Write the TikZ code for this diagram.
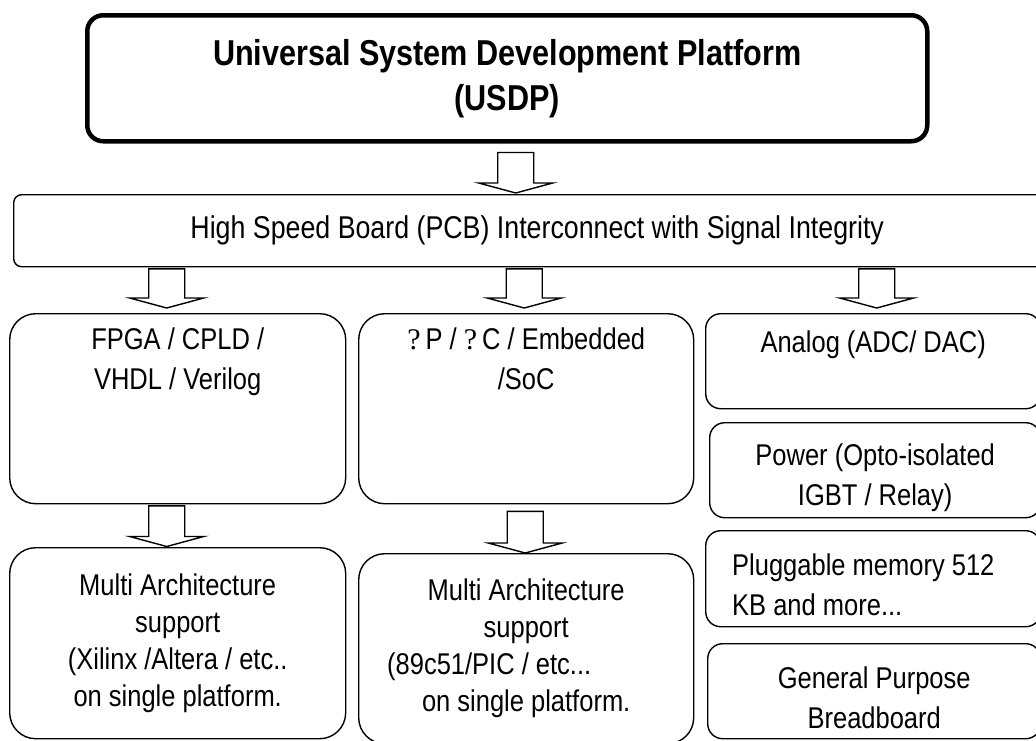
\documentclass[tikz,border=0pt]{standalone}
\usepackage{fontspec}
\setmainfont{Liberation Sans}[FakeStretch=0.85]
\newfontfamily\qmarkfont{Liberation Serif}
\usetikzlibrary{positioning,calc}
\tikzset{
  box-title/.style={draw,line width=4.5pt,rounded corners=16pt,align=center,
    anchor=north west,inner sep=0pt,font=\fontsize{36}{45}\selectfont\bfseries},
  box-bus/.style={draw,line width=1.4pt,rounded corners=8pt,anchor=north west,
    inner sep=0pt,font=\fontsize{31.5}{38}\selectfont},
  box-big/.style={draw,line width=1.4pt,rounded corners=26pt,anchor=north west,
    minimum width=336pt,align=center,inner sep=0pt,font=\fontsize{30}{37}\selectfont},
  box-side/.style={draw,line width=1.4pt,rounded corners=15pt,anchor=north west,
    minimum height=95pt,inner sep=0pt},
  box-text/.style={align=center,inner sep=0pt,font=\fontsize{30}{40}\selectfont},
  arrow-block/.style={draw,line width=1.4pt,fill=white,line join=miter},
}
% hollow block arrow: x offset, from, to, gap below from, gap above to
\newcommand\blockarrow[5]{%
  \draw[arrow-block] let \p1=(#2.south), \p2=($(#3.north)+(#1,0)$) in
    (\x2-18pt,\y1-#4pt) -- (\x2-18pt,\y2+#5pt+10pt) -- (\x2-37pt,\y2+#5pt+10pt)
    -- (\x2,\y2+#5pt) -- (\x2+37pt,\y2+#5pt+10pt) -- (\x2+18pt,\y2+#5pt+10pt)
    -- (\x2+18pt,\y1-#4pt) -- cycle;}

\begin{document}
\begin{tikzpicture}[x=1pt,y=-1pt]
  \useasboundingbox (0,0) rectangle (1036,740);
  \clip (0,0) rectangle (1036,740);
  \node[box-title,minimum width=840pt,minimum height=126pt] (usdp) at (85,13)
    {Universal System Development Platform\\(USDP)};
  \node[box-bus,minimum width=1047pt,minimum height=72pt] (pcb) at (13,194)
    {High Speed Board (PCB) Interconnect with Signal Integrity};
  % middle row
  \node[box-big,minimum height=190pt] (fpga) at (9,313) {};
  \node[box-text,below=15pt of fpga.north] (fpga-txt) {FPGA / CPLD /\\VHDL / Verilog};
  \node[box-big,minimum width=335pt,minimum height=190pt] (mcu) at (358,313) {};
  \node[box-text,below=15pt of mcu.north] (mcu-txt)
    {{\qmarkfont ?}\,P / {\qmarkfont ?}\,C / Embedded\\/SoC};
  % right column
  \node[box-side,minimum width=335pt] (analog) at (705,313) {};
  \node[box-text,below=18pt of analog.north] (analog-txt) {Analog (ADC/ DAC)};
  \node[box-side,minimum width=331pt] (power) at (709,422) {};
  \node[box-text] (power-txt) at ($(power.center)+(0,8)$)
    {Power (Opto-isolated\\IGBT / Relay)};
  \node[box-side,minimum width=335pt,minimum height=96pt] (memory) at (705,530) {};
  \node[box-text,align=left,anchor=west] (memory-txt) at ($(memory.west)+(27,6)$)
    {Pluggable memory 512\\KB and more...};
  \node[box-side,minimum width=333pt] (bread) at (707,643) {};
  \node[box-text] (bread-txt) at ($(bread.center)+(0,7)$)
    {General Purpose\\Breadboard};
  % bottom row
  \node[box-big,minimum height=191pt] (arch-fpga) at (9,547)
    {Multi Architecture\\support\\(Xilinx /Altera / etc..\\on single platform.};
  \node[box-big,minimum width=335pt,minimum height=190pt] (arch-mcu) at (358,553)
    {Multi Architecture\\support\\\hbox{(89c51/PIC / etc...\kern74pt}\\on single platform.};
  % arrows
  \blockarrow{-21.5}{usdp}{pcb}{9}{1}
  \blockarrow{-11}{pcb}{fpga}{1.5}{5}
  \blockarrow{-2}{pcb}{mcu}{1.5}{5}
  \blockarrow{3.5}{pcb}{analog}{1.5}{5}
  \blockarrow{-11}{fpga}{arch-fpga}{1.5}{0.5}
  \blockarrow{-1}{mcu}{arch-mcu}{7}{0}
\end{tikzpicture}
\end{document}
